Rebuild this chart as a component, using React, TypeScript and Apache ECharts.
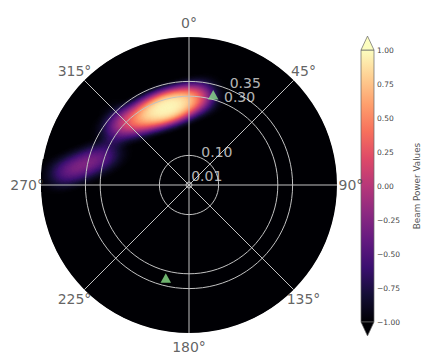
import React, { useEffect, useRef } from 'react';
import * as echarts from 'echarts';

// ---- axes / ticks ----
const angleTicks = [0, 45, 90, 135, 180, 225, 270, 315];
const angleTickLabels = ['0°', '45°', '90°', '135°', '180°', '225°', '270°', '315°'];
const radialTicks = [0.01, 0.1, 0.3, 0.35];
const radialTickLabels = ['0.01', '0.10', '0.30', '0.35'];
const radiusMax = 0.5;
const colorbarMin = -1;
const colorbarMax = 1;
const colorbarStep = 0.25;

// ---- beam power samples (angle deg clockwise from north, radius, power) ----
const beamAngles = [303.4, 307.5, 311.4, 315.5, 319.5, 323.8, 328.3, 332.8, 337.3, 341.9, 346.4, 350.8, 355.2, 359.3, 3.3, 7.1, 10.7, 313.3,
  273.8, 275.1, 276.3, 277.9, 279.5, 281.4, 283.5, 285.8, 288.3, 291.2, 294.7];
const beamRadii = [0.320, 0.311, 0.302, 0.294, 0.286, 0.280, 0.276, 0.274, 0.271, 0.272, 0.273, 0.275, 0.280, 0.286, 0.293, 0.300, 0.309, 0.330,
  0.454, 0.434, 0.415, 0.396, 0.377, 0.358, 0.340, 0.323, 0.306, 0.290, 0.275];
const beamPower = [-0.8, -0.7, -0.6, -0.42, -0.26, -0.04, 0.2, 0.46, 0.76, 1, 1, 0.76, 0.46, 0.12, -0.18, -0.4, -0.64, -0.82,
  -0.88, -0.8, -0.74, -0.7, -0.68, -0.68, -0.7, -0.72, -0.76, -0.82, -0.9];

// ---- source markers ----
const markerAngles = [15, 194];
const markerRadii = [0.316, 0.324];

// magma colormap
const magma = ['#000004', '#140e36', '#3b0f70', '#641a80', '#8c2981', '#b73779', '#de4968', '#f7705c', '#fe9f6d', '#fecf92', '#fcfdbf'];

const diskGeo = {
  type: 'FeatureCollection',
  features: [
    {
      type: 'Feature',
      properties: { name: 'beam' },
      geometry: { type: 'Polygon', coordinates: [[[-0.5, -0.5], [0.5, -0.5], [0.5, 0.5], [-0.5, 0.5], [-0.5, -0.5]]] },
    },
  ],
};

export default function App() {
  const ref = useRef<HTMLDivElement>(null);
  useEffect(() => {
    if (!ref.current) return;
    echarts.registerMap('beamDisk', diskGeo as any);
    const chart = echarts.init(ref.current, null, { renderer: 'svg' });
    const font = 'DejaVu Sans';
    const gridColor = '#c2c2c2';
    const cx = 189;
    const cy = 185;
    const R = 148;
    const step = 0.01;
    const n = Math.round(radiusMax / step);
    const ringColors: string[] = [];
    for (let k = 0; k <= n; k++) {
      const v = k * step;
      ringColors.push(radialTicks.some((t) => Math.abs(t - v) < 1e-9) ? gridColor : 'rgba(0,0,0,0)');
    }
    const toRad = Math.PI / 180;
    const heatData = beamAngles.map((a, i) => [beamRadii[i] * Math.sin(a * toRad), beamRadii[i] * Math.cos(a * toRad), beamPower[i]]);
    const outline = '#666';

    const option: any = {
      animation: false,
      polar: { center: [cx, cy], radius: R },
      angleAxis: {
        type: 'value', startAngle: 90, clockwise: true, min: 0, max: 360, interval: 45,
        axisLine: { show: false }, axisTick: { show: false }, axisLabel: { show: false },
        splitLine: { show: true, lineStyle: { color: gridColor, width: 1 } }, z: 5,
      },
      radiusAxis: {
        type: 'value', min: 0, max: radiusMax, interval: step,
        axisLine: { show: false }, axisTick: { show: false }, axisLabel: { show: false },
        splitLine: { show: true, lineStyle: { color: ringColors, width: 1 } }, z: 5,
      },
      geo: {
        map: 'beamDisk', layoutCenter: [cx, cy], layoutSize: 2 * R, aspectScale: 1,
        boundingCoords: [[-0.5, 0.5], [0.5, -0.5]], roam: false, silent: true,
        label: { show: false },
        itemStyle: { areaColor: 'rgba(0,0,0,0)', borderWidth: 0, borderColor: 'rgba(0,0,0,0)' },
        emphasis: { disabled: true }, select: { disabled: true }, z: 1,
      },
      grid: { left: 361, top: 50, width: 13.5, height: 272 },
      xAxis: { type: 'value', min: 0, max: 1, show: false },
      yAxis: {
        type: 'value', position: 'right', min: colorbarMin, max: colorbarMax, interval: colorbarStep,
        axisLine: { show: false },
        axisTick: { show: true, length: 3, lineStyle: { color: '#555', width: 0.8 } },
        splitLine: { show: false },
        axisLabel: {
          margin: 3, fontSize: 7.5, color: '#444', fontFamily: font,
          formatter: (v: number) => (v < 0 ? '\u2212' : '') + Math.abs(v).toFixed(2),
        },
        name: 'Beam Power Values', nameLocation: 'middle', nameGap: 38, nameRotate: 90,
        nameTextStyle: { fontSize: 8.8, color: '#555', fontFamily: font },
      },
      visualMap: { type: 'continuous', show: false, min: colorbarMin, max: colorbarMax, seriesIndex: 1, inRange: { color: magma } },
      series: [
        {
          type: 'pie', center: [cx, cy], radius: [0, R], silent: true, z: 1,
          label: { show: false }, labelLine: { show: false }, emphasis: { disabled: true },
          data: [{ value: 1, itemStyle: { color: magma[0] } }],
        },
        {
          type: 'heatmap', coordinateSystem: 'geo', geoIndex: 0, data: heatData,
          pointSize: 12, blurSize: 14, minOpacity: 1, maxOpacity: 1, z: 3, silent: true,
        },
        {
          type: 'pie', center: [cx, cy], radius: [R + 0.5, R + 28], silent: true, z: 4,
          label: { show: false }, labelLine: { show: false }, emphasis: { disabled: true },
          data: [{ value: 1, itemStyle: { color: '#ffffff' } }],
        },
        {
          type: 'scatter', coordinateSystem: 'polar', symbol: 'triangle', symbolSize: [10.5, 9.5], z: 8, silent: true,
          itemStyle: { color: '#8ae08a' },
          data: markerRadii.map((r, i) => [r, markerAngles[i]]),
        },
        {
          type: 'scatter', coordinateSystem: 'polar', symbolSize: 0, clip: false, z: 10, silent: true,
          itemStyle: { color: 'rgba(0,0,0,0)' },
          label: {
            show: true, position: 'inside', fontSize: 14, color: '#3a3a3a', fontFamily: font,
            formatter: (p: any) => angleTickLabels[p.dataIndex],
          },
          data: angleTicks.map((a) => [0.547, a]),
        },
        {
          type: 'scatter', coordinateSystem: 'polar', symbolSize: 0, clip: false, z: 10, silent: true,
          itemStyle: { color: 'rgba(0,0,0,0)' },
          label: {
            show: true, position: [1, 1], align: 'left', verticalAlign: 'bottom', fontSize: 14, color: '#e4e4e4', fontFamily: font,
            formatter: (p: any) => radialTickLabels[p.dataIndex],
          },
          data: radialTicks.map((r) => [r, 22.5]),
        },
        {
          type: 'custom', coordinateSystem: 'cartesian2d', xAxisIndex: 0, yAxisIndex: 0, silent: true, z: 5,
          data: [[0, 0]],
          renderItem: (params: any, api: any) => {
            const top = api.coord([0, colorbarMax]);
            const bot = api.coord([1, colorbarMin]);
            const x0 = top[0], y0 = top[1], x1 = bot[0], y1 = bot[1];
            const w = x1 - x0;
            const ext = w * 1.07;
            const stops = magma.map((c, i) => ({ offset: i / (magma.length - 1), color: c }));
            return {
              type: 'group',
              children: [
                { type: 'rect', shape: { x: x0, y: y0, width: w, height: y1 - y0 }, style: { fill: new echarts.graphic.LinearGradient(0, 1, 0, 0, stops), stroke: outline, lineWidth: 0.7 } },
                { type: 'polygon', shape: { points: [[x0, y0], [x0 + w / 2, y0 - ext], [x1, y0]] }, style: { fill: magma[magma.length - 1], stroke: outline, lineWidth: 0.7 } },
                { type: 'polygon', shape: { points: [[x0, y1], [x0 + w / 2, y1 + ext], [x1, y1]] }, style: { fill: magma[0], stroke: outline, lineWidth: 0.7 } },
              ],
            };
          },
        },
      ],
    };
    chart.setOption(option);
    return () => chart.dispose();
  }, []);
  return <div ref={ref} style={{ position: 'fixed', left: 0, top: 0, width: 422, height: 353, background: '#fff' }} />;
}
